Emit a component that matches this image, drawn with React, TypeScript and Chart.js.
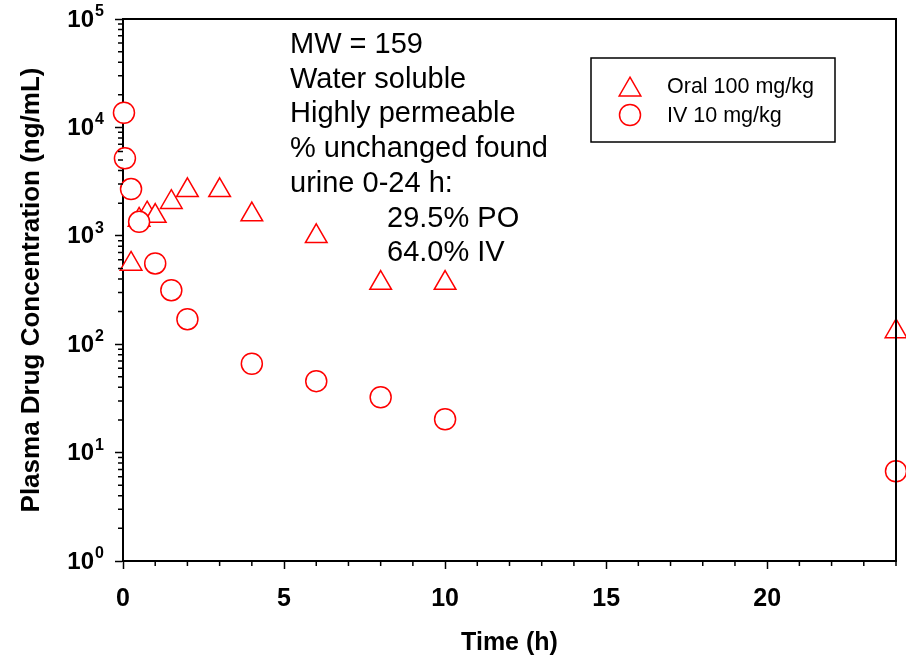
import React, { useEffect, useRef } from 'react';
import { Chart, registerables } from 'chart.js';

Chart.register(...registerables);

// ---- data ----
const oralTimes = [0.25, 0.5, 0.75, 1, 1.5, 2, 3, 4, 6, 8, 10, 24];
const oralConc = [550, 1400, 1600, 1520, 2040, 2630, 2630, 1570, 990, 366, 366, 131];
const ivTimes = [0.03, 0.06, 0.25, 0.5, 1, 1.5, 2, 4, 6, 8, 10, 24];
const ivConc = [13650, 5180, 2700, 1346, 556, 315, 170, 66, 45.6, 32.4, 20.3, 6.73];

const seriesLabels = ['Oral 100 mg/kg', 'IV 10 mg/kg'];
const xTickValues = [0, 5, 10, 15, 20];
const xMinorTicks = [1, 2, 3, 4, 6, 7, 8, 9, 11, 12, 13, 14, 16, 17, 18, 19, 21, 22, 23, 24];
const yTickExponents = [0, 1, 2, 3, 4, 5];
const yMinorMultipliers = [2, 3, 4, 5, 6, 7, 8, 9];
const noteLines = ['MW = 159', 'Water soluble', 'Highly permeable', '% unchanged found', 'urine 0-24 h:'];
const noteResults = ['29.5% PO', '64.0% IV'];
const xTitle = 'Time (h)';
const yTitle = 'Plasma Drug Concentration (ng/mL)';

const FONT = '"Liberation Sans", Arial, Helvetica, sans-serif';
const RED = '#ff0000';

export default function App() {
  const ref = useRef<HTMLCanvasElement>(null);

  useEffect(() => {
    const canvas = ref.current;
    if (!canvas) return;

    const decorations = {
      id: 'decorations',
      afterDraw(chart: any) {
        const { ctx, chartArea: ca, scales } = chart;
        const xs = scales.x;
        const ys = scales.y;
        ctx.save();
        // top & right frame
        ctx.strokeStyle = '#000';
        ctx.lineWidth = 2;
        ctx.beginPath();
        ctx.moveTo(ca.left - 1, ca.top);
        ctx.lineTo(ca.right, ca.top);
        ctx.lineTo(ca.right, ca.bottom + 1);
        ctx.stroke();

        // minor ticks
        ctx.lineWidth = 1.5;
        ctx.beginPath();
        for (const v of xMinorTicks) {
          const px = xs.getPixelForValue(v);
          ctx.moveTo(px, ca.bottom);
          ctx.lineTo(px, ca.bottom + 5);
        }
        for (const e of yTickExponents.slice(0, -1)) {
          for (const m of yMinorMultipliers) {
            const py = ys.getPixelForValue(m * Math.pow(10, e));
            ctx.moveTo(ca.left - 5, py);
            ctx.lineTo(ca.left, py);
          }
        }
        ctx.stroke();

        // y tick labels: 10^n
        ctx.fillStyle = '#000';
        for (const e of yTickExponents) {
          const py = ys.getPixelForValue(Math.pow(10, e));
          ctx.font = `bold 24px ${FONT}`;
          ctx.textAlign = 'right';
          ctx.textBaseline = 'middle';
          ctx.fillText('10', 94, py + 1);
          ctx.font = `bold 16px ${FONT}`;
          ctx.textAlign = 'left';
          ctx.textBaseline = 'alphabetic';
          ctx.fillText(String(e), 95, py - 3);
        }

        // annotation text
        ctx.font = `29px ${FONT}`;
        ctx.textAlign = 'left';
        ctx.textBaseline = 'alphabetic';
        noteLines.forEach((t, i) => ctx.fillText(t, 290, 53 + i * 34.7));
        noteResults.forEach((t, i) => ctx.fillText(t, 387, 53 + (noteLines.length + i) * 34.7));

        // legend
        const lx = 591, ly = 58, lw = 244, lh = 84;
        ctx.lineWidth = 1.5;
        ctx.strokeStyle = '#000';
        ctx.strokeRect(lx, ly, lw, lh);
        const datasets = chart.data.datasets;
        const rows = [datasets[0], datasets[1]];
        rows.forEach((ds: any, i: number) => {
          const cy = 86.5 + i * 28.5;
          const cx = 630;
          ctx.strokeStyle = ds.borderColor;
          ctx.fillStyle = '#fff';
          ctx.lineWidth = 1.5;
          ctx.beginPath();
          if (ds.pointStyle === 'triangle') {
            const r = ds.pointRadius;
            const c = cy + r / 4;
            for (let k = 0; k < 3; k++) {
              const a = (k * 2 * Math.PI) / 3;
              const x = cx + Math.sin(a) * r;
              const y = c - Math.cos(a) * r;
              if (k === 0) ctx.moveTo(x, y); else ctx.lineTo(x, y);
            }
            ctx.closePath();
          } else {
            ctx.arc(cx, cy, ds.pointRadius, 0, Math.PI * 2);
          }
          ctx.fill();
          ctx.stroke();
          ctx.fillStyle = '#000';
          ctx.font = `21.5px ${FONT}`;
          ctx.textAlign = 'left';
          ctx.textBaseline = 'middle';
          ctx.fillText(ds.label, 667, cy + 1);
        });
        ctx.restore();
      },
    };

    const chart = new Chart(canvas, {
      type: 'scatter',
      data: {
        datasets: [
          {
            label: seriesLabels[0],
            data: oralTimes.map((t, i) => ({ x: t, y: oralConc[i] })),
            pointStyle: 'triangle',
            pointRadius: 12.5,
            borderColor: RED,
            backgroundColor: '#ffffff',
            borderWidth: 1.5,
            pointBorderWidth: 1.5,
            order: 1,
            clip: false,
          } as any,
          {
            label: seriesLabels[1],
            data: ivTimes.map((t, i) => ({ x: t, y: ivConc[i] })),
            pointStyle: 'circle',
            pointRadius: 10.5,
            borderColor: RED,
            backgroundColor: '#ffffff',
            borderWidth: 1.5,
            pointBorderWidth: 1.5,
            order: 0,
            clip: false,
          } as any,
        ],
      },
      options: {
        animation: false,
        responsive: false,
        maintainAspectRatio: false,
        layout: { autoPadding: false, padding: { top: 19, right: 10, left: 0, bottom: 0 } },
        plugins: {
          legend: { display: false },
          tooltip: { enabled: false },
        },
        scales: {
          x: {
            type: 'linear',
            min: 0,
            max: 24,
            afterBuildTicks: (s: any) => {
              s.ticks = xTickValues.map((v) => ({ value: v }));
            },
            afterFit: (s: any) => {
              s.height = 101;
              s.paddingLeft = 0;
              s.paddingRight = 0;
            },
            grid: { drawOnChartArea: false, drawTicks: true, tickLength: 8, tickColor: '#000', tickWidth: 1.5 },
            border: { display: true, color: '#000', width: 2 },
            ticks: {
              color: '#000',
              font: { family: FONT, size: 25, weight: 'bold' },
              padding: 15,
              maxRotation: 0,
              autoSkip: false,
            },
            title: {
              display: true,
              text: xTitle,
              color: '#000',
              font: { family: FONT, size: 25, weight: 'bold' },
              padding: { top: 0, bottom: 4 },
            },
          },
          y: {
            type: 'logarithmic',
            min: 1,
            max: 100000,
            afterBuildTicks: (s: any) => {
              s.ticks = yTickExponents.map((e) => ({ value: Math.pow(10, e) }));
            },
            afterFit: (s: any) => {
              s.width = 123;
              s.paddingTop = 0;
              s.paddingBottom = 0;
            },
            grid: { drawOnChartArea: false, drawTicks: true, tickLength: 8, tickColor: '#000', tickWidth: 1.5 },
            border: { display: true, color: '#000', width: 2 },
            ticks: { display: false },
            title: {
              display: true,
              text: yTitle,
              color: '#000',
              font: { family: FONT, size: 26, weight: 'bold' },
              padding: { top: 16, bottom: 0 },
            },
          },
        },
      } as any,
      plugins: [decorations],
    });

    return () => chart.destroy();
  }, []);

  return (
    <div style={{ position: 'fixed', left: 0, top: 0, width: 906, height: 662, background: '#fff' }}>
      <canvas ref={ref} width={906} height={662} style={{ display: 'block', width: 906, height: 662 }} />
    </div>
  );
}
